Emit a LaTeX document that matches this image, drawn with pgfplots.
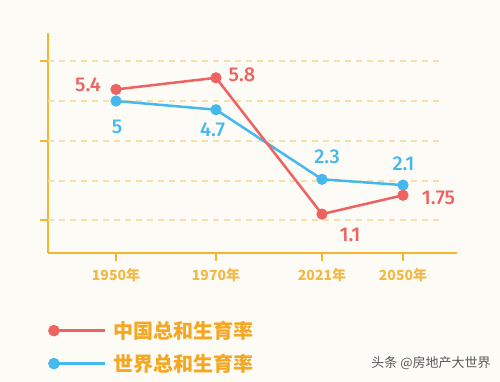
\documentclass[border=0pt]{standalone}
\usepackage{fontspec}
\usepackage{pgfplots}
\pgfplotsset{compat=1.18}
\setmainfont{Noto Sans CJK SC}
\newfontfamily\numfont{Fira Sans Medium}
\definecolor{bgc}{HTML}{FDFBF5}
\definecolor{cnred}{HTML}{EF6262}
\definecolor{wblue}{HTML}{45B8EE}
\definecolor{axor}{HTML}{F5B52E}
\definecolor{gridc}{HTML}{F8DFA8}
\definecolor{legor}{HTML}{F5A623}
\definecolor{tickc}{HTML}{F2B845}
\begin{document}
\begin{tikzpicture}
\useasboundingbox (0,0) rectangle (500pt,382pt);
\fill[bgc] (0,0) rectangle (500pt,382pt);
\begin{axis}[
  at={(48pt,129pt)}, anchor=south west, scale only axis,
  width=409pt, height=220pt,
  xmin=-0.68, xmax=3.41, ymin=-0.241, ymax=7.345,
  axis x line=bottom, axis y line=left,
  axis line style={-, draw=axor, line width=1.5pt},
  xtick={0,1,2.06,2.87}, xticklabels={1950年,1970年,2021年,2050年},
  ytick={0.897,3.621,6.379}, yticklabels={},
  tick align=outside, major tick length=8pt,
  tick style={draw=axor, line width=1.3pt},
  xticklabel style={font=\fontsize{14pt}{14pt}\selectfont\bfseries, text=tickc, yshift=-4pt},
  clip=false,
  reverse legend,
  legend cell align=left,
  legend style={at={(axis description cs:0,-0.3)}, anchor=north west, draw=none, fill=none,
    inner sep=0pt, row sep=10pt, font=\fontsize{20pt}{20pt}\selectfont\bfseries, text=legor,
    /tikz/every odd column/.append style={column sep=5pt}},
  legend image code/.code={\draw[#1, line width=2.5pt] (0pt,0pt) -- (51pt,0pt); \fill[#1] (0pt,0pt) circle (4.5pt);},
]
\foreach \g in {0.897,2.241,3.621,5.0,6.379} {
  \edef\tmp{\noexpand\draw[gridc, line width=1.3pt, dash pattern=on 6pt off 5pt] (axis cs:-0.68,\g) -- (axis cs:3.24,\g);}
  \tmp
}
\addplot[wblue, line width=2.5pt, mark=*, mark size=4.3pt, mark options={solid, fill=wblue, draw=wblue}]
  coordinates {(0,5.0) (1,4.7) (2.06,2.3) (2.87,2.1)};
\addlegendentry{世界总和生育率}
\addplot[cnred, line width=2.5pt, mark=*, mark size=4.3pt, mark options={solid, fill=cnred, draw=cnred}]
  coordinates {(0,5.4) (1,5.8) (2.06,1.1) (2.87,1.75)};
\addlegendentry{中国总和生育率}
\node[font=\numfont\fontsize{20pt}{20pt}\selectfont, text=cnred, inner sep=0pt] at (axis cs:-0.28,5.569) {5.4};
\node[font=\numfont\fontsize{20pt}{20pt}\selectfont, text=cnred, inner sep=0pt] at (axis cs:1.26,5.897) {5.8};
\node[font=\numfont\fontsize{20pt}{20pt}\selectfont, text=cnred, inner sep=0pt] at (axis cs:2.34,0.379) {1.1};
\node[font=\numfont\fontsize{20pt}{20pt}\selectfont, text=cnred, inner sep=0pt] at (axis cs:3.225,1.655) {1.75};
\node[font=\numfont\fontsize{20pt}{20pt}\selectfont, text=wblue, inner sep=0pt] at (axis cs:0.01,4.121) {5};
\node[font=\numfont\fontsize{20pt}{20pt}\selectfont, text=wblue, inner sep=0pt] at (axis cs:0.965,4.0) {4.7};
\node[font=\numfont\fontsize{20pt}{20pt}\selectfont, text=wblue, inner sep=0pt] at (axis cs:2.11,3.069) {2.3};
\node[font=\numfont\fontsize{20pt}{20pt}\selectfont, text=wblue, inner sep=0pt] at (axis cs:2.875,2.828) {2.1};
\end{axis}
\node[font=\fontsize{13pt}{13pt}\selectfont, text=black!65] at (431pt,19pt) {头条 @房地产大世界};
\end{tikzpicture}
\end{document}
